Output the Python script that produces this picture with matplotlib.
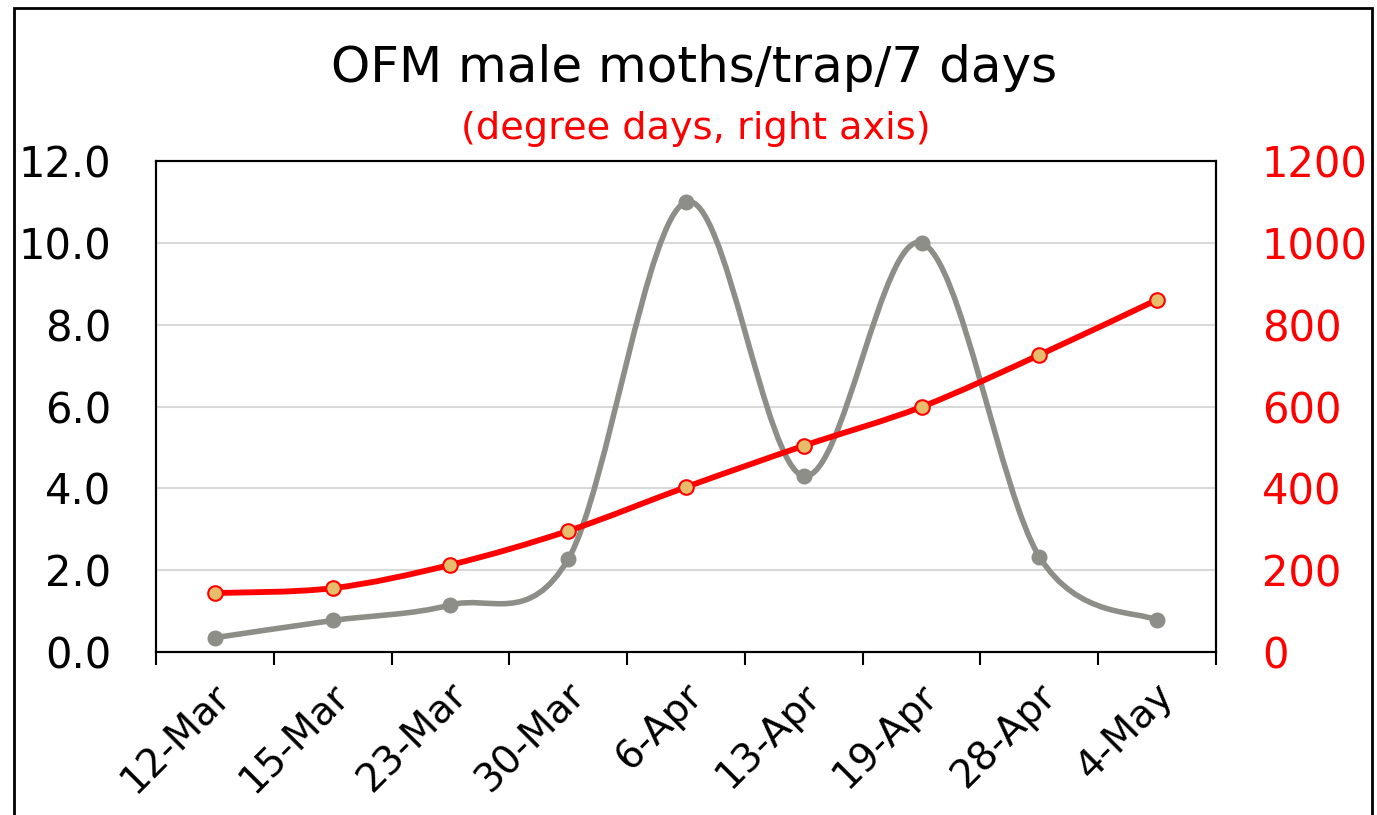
import numpy as np
import matplotlib
matplotlib.use('Agg')
import matplotlib.pyplot as plt
from matplotlib.path import Path
from matplotlib.patches import PathPatch, Rectangle
from matplotlib.transforms import ScaledTranslation

plt.rcParams['font.family'] = ['DejaVu Sans']

# 데이터
dates = ['12-Mar', '15-Mar', '23-Mar', '30-Mar', '6-Apr', '13-Apr', '19-Apr', '28-Apr', '4-May']
moths = [0.35, 0.77, 1.15, 2.27, 11.0, 4.3, 10.0, 2.33, 0.77]
degree_days = [144, 156, 213, 296, 403, 504, 599, 726, 861]

GRAY = '#8e8e88'
RED = '#ff0000'


def smooth_path(xs, ys):
    # 엑셀식 부드러운 선 (베지어)
    pts = np.column_stack([xs, ys]).astype(float)
    n = len(pts)
    verts = [pts[0]]
    codes = [Path.MOVETO]
    for i in range(n - 1):
        p0 = pts[i - 1] if i > 0 else pts[i]
        p1 = pts[i]
        p2 = pts[i + 1]
        p3 = pts[i + 2] if i + 2 < n else pts[i + 1]
        c1 = p1 + (p2 - p0) / 6.0
        c2 = p2 - (p3 - p1) / 6.0
        verts += [c1, c2, p2]
        codes += [Path.CURVE4] * 3
    return Path(verts, codes)


fig = plt.figure(figsize=(13.77, 8.15), dpi=100)
ax = fig.add_axes([156 / 1377, 1 - 652 / 815, 1060 / 1377, 491 / 815])
ax2 = ax.twinx()

x = np.arange(len(dates))

# 나방 수 (왼쪽 축)
ax.add_patch(PathPatch(smooth_path(x, moths), fill=False, edgecolor=GRAY, lw=4,
                       capstyle='round', zorder=3))
ax.plot(x, moths, 'o', color=GRAY, ms=10.5, zorder=4)

# 적산온도 (오른쪽 축)
ax2.add_patch(PathPatch(smooth_path(x, degree_days), fill=False, edgecolor=RED, lw=4.2,
                        capstyle='round', zorder=3))
ax2.plot(x, degree_days, 'o', color=RED, mfc='#e6bd6a', mec=RED, mew=1.5, ms=10.5, zorder=4)

ax.set_xlim(-0.5, len(dates) - 0.5)
ax.set_ylim(0, 12)
ax2.set_ylim(0, 1200)

ax.set_yticks(np.arange(0, 12.1, 2))
ax.set_yticklabels(['%.1f' % v for v in np.arange(0, 12.1, 2)])
ax2.set_yticks(np.arange(0, 1201, 200))

ax.grid(axis='y', color='#d9d9d9', lw=1.5)
ax.set_axisbelow(True)

ax.set_xticks(np.arange(-0.5, len(dates), 1))
ax.set_xticklabels([])
ax.set_xticks(x, minor=True)
ax.set_xticklabels(dates, minor=True, rotation=45, ha='right', va='center',
                   rotation_mode='anchor', fontsize=28)
ax.tick_params(axis='x', which='major', length=9, width=1.5, direction='out')
ax.tick_params(axis='x', which='minor', length=0, pad=27)
ax.tick_params(axis='y', length=0, labelsize=30, pad=32)
ax2.tick_params(axis='y', length=0, labelsize=30, pad=33, labelcolor=RED)

# 라벨 살짝 오른쪽으로
shift = ScaledTranslation(10 / 100, 0, fig.dpi_scale_trans)
for lab in ax.get_xticklabels(minor=True):
    lab.set_transform(lab.get_transform() + shift)

for a in (ax, ax2):
    for s in a.spines.values():
        s.set_linewidth(1.5)
        s.set_color('black')

fig.text(0.504, 0.899, 'OFM male moths/trap/7 days', ha='center', va='baseline', fontsize=36)
fig.text(0.505, 0.829, '(degree days, right axis)', ha='center', va='baseline', fontsize=27.5,
         color=RED)

# 바깥 테두리
fig.patches.append(Rectangle((14 / 1377, -0.1), (1372 - 14) / 1377, 1.1 - 8 / 815,
                             transform=fig.transFigure, fill=False, edgecolor='black',
                             lw=2, clip_on=False))

fig.savefig('out.png', dpi=100)
